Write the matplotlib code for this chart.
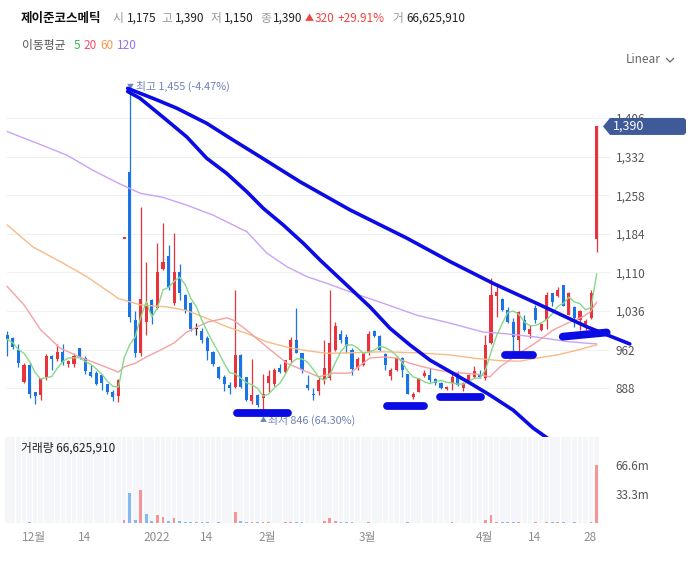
import numpy as np
import pandas as pd
import matplotlib
matplotlib.use('Agg')
import matplotlib.pyplot as plt
from matplotlib.patches import Polygon
from matplotlib.lines import Line2D
from matplotlib.transforms import IdentityTransform

plt.rcParams['font.family'] = ['Noto Sans CJK KR', 'DejaVu Sans']

W, H = 693, 571

# trading days (KRX holidays removed)
holidays = ['2021-12-31', '2022-01-31', '2022-02-01', '2022-02-02', '2022-03-01', '2022-03-09']
days = pd.bdate_range('2021-11-23', '2022-04-28')
days = days[~days.isin(pd.to_datetime(holidays))]

opens = [990, 984, 961, 901, 933, 880, 875, 907, 950, 945, 958, 935, 934, 965, 947, 919, 918, 913, 896, 880,
         874, 1175, 1303, 1018, 955, 1016, 1057, 1042, 1116, 1142, 1052, 1110, 1067, 1051, 1001, 998, 985, 958, 928, 909,
         894, 891, 952, 909, 864, 875, 869, 899, 896, 926, 920, 942, 981, 955, 894, 876, 882, 904, 907, 961,
         992, 987, 961, 926, 933, 955, 998, 988, 954, 912, 924, 947, 915, 872, 881, 912, 914, 906, 898, 886,
         898, 920, 888, 901, 910, 915, 907, 974, 1065, 1060, 1038, 1016, 981, 1018, 993, 1041, 1000, 1018, 1070, 1065,
         1086, 1029, 1044, 1018, 1007, 1022, 1175]
highs = [998, 986, 973, 936, 939, 880, 908, 953, 951, 973, 973, 942, 955, 966, 950, 933, 921, 915, 897, 885,
         905, 1175, 1455, 1037, 1236, 1131, 1060, 1166, 1205, 1163, 1185, 1126, 1068, 1053, 1013, 1003, 988, 960, 930, 914,
         900, 1076, 953, 909, 945, 878, 915, 923, 926, 934, 943, 987, 1041, 956, 914, 888, 910, 981, 1076, 1016,
         1000, 992, 965, 948, 957, 998, 1000, 990, 955, 926, 949, 948, 916, 880, 908, 923, 926, 907, 900, 892,
         915, 921, 900, 915, 930, 924, 990, 1099, 1090, 1062, 1044, 1022, 1036, 1029, 1009, 1048, 1013, 1073, 1071, 1083,
         1086, 1073, 1045, 1038, 1020, 1076, 1390]
lows = [950, 963, 929, 899, 869, 857, 866, 904, 923, 940, 933, 928, 929, 944, 915, 910, 894, 885, 877, 864,
        862, 1175, 1016, 948, 950, 990, 1011, 1040, 1115, 1076, 1048, 1057, 1032, 998, 990, 974, 942, 930, 905, 882,
        878, 889, 889, 863, 857, 853, 846, 880, 893, 917, 918, 939, 955, 918, 885, 866, 876, 897, 904, 960,
        975, 955, 914, 923, 930, 952, 986, 959, 923, 903, 922, 910, 877, 867, 880, 910, 901, 894, 886, 885,
        885, 893, 882, 899, 908, 908, 904, 973, 1025, 1036, 1013, 958, 958, 997, 984, 1014, 997, 1001, 1045, 1063,
        1045, 1028, 1005, 1000, 1000, 1020, 1150]
closes = [982, 968, 937, 933, 878, 874, 907, 950, 944, 958, 938, 941, 950, 947, 921, 912, 896, 899, 880, 872,
          904, 1175, 1025, 956, 1060, 1052, 1030, 1111, 1131, 1083, 1110, 1071, 1038, 1001, 1001, 981, 960, 935, 907, 897,
          889, 952, 891, 866, 875, 856, 877, 911, 923, 920, 942, 981, 956, 923, 888, 875, 904, 926, 974, 1007,
          981, 969, 925, 945, 955, 993, 988, 961, 933, 924, 947, 923, 878, 877, 907, 918, 904, 898, 888, 891,
          909, 894, 898, 914, 922, 910, 971, 1067, 1073, 1038, 1016, 987, 1035, 1000, 1002, 1018, 1011, 1067, 1054, 1076,
          1046, 1070, 1022, 1037, 1017, 1070, 1390]

# volume in millions of shares
volume_m = [0.3, 0.3, 0.3, 0.3, 1.0, 0.3, 0.3, 0.3, 0.3, 0.3, 0.3, 0.3, 0.3, 0.3, 0.3, 0.3, 0.3, 0.3, 0.3, 0.3,
            0.3, 3.0, 34.4, 3.0, 37.7, 10.0, 1.8, 8.9, 7.4, 1.8, 5.5, 1.8, 1.0, 1.0, 1.0, 1.0, 1.0, 0.3, 1.0, 0.3,
            0.3, 12.2, 2.2, 1.0, 1.0, 1.0, 1.0, 1.0, 0.3, 0.3, 1.0, 1.0, 1.0, 1.0, 0.3, 0.3, 0.3, 2.2, 5.5, 2.2,
            1.0, 1.0, 1.0, 0.3, 0.3, 1.0, 0.3, 0.3, 0.3, 0.3, 0.3, 0.3, 1.0, 0.3, 0.3, 0.3, 0.3, 0.3, 0.3, 0.3,
            1.0, 0.3, 0.3, 0.3, 0.3, 0.3, 3.3, 8.9, 1.0, 1.0, 1.0, 1.0, 1.0, 0.3, 0.3, 1.0, 0.3, 1.0, 1.0, 1.0,
            1.0, 0.3, 1.0, 0.3, 0.3, 1.0, 66.63]

# moving averages (day index, price)
ma20_idx = [0, 3, 6, 9.5, 13, 16.7, 20, 21, 23, 25, 27.5, 30, 32.3, 36, 39.5, 40.6, 43, 46.7, 50.3, 54, 56, 58.6,
            61.6, 64, 65.2, 67.6, 70, 72.4, 74.8, 77.3, 79.6, 82, 84.5, 86.8, 88.6, 92.2, 95.3, 98.2, 101.2, 103.5, 104.8, 106]
ma20_val = [1083, 1048, 1000, 965, 948, 933, 919, 929, 936, 948, 961, 975, 996, 1015, 1023, 1019, 1000, 967, 936, 919, 910, 917,
            917, 936, 946, 948, 946, 936, 929, 923, 919, 917, 915, 910, 929, 956, 977, 1000, 1015, 1025, 1034, 1053]
ma60_idx = [0, 4.6, 9.5, 14.3, 20, 23.9, 28.7, 32.3, 35.9, 39.5, 43.1, 46.7, 50.3, 53.9, 57.5, 61.6, 67.6, 73.7,
            79.6, 84.5, 88.6, 92.2, 95.3, 98.9, 102.5, 104.8, 106]
ma60_val = [1201, 1159, 1131, 1102, 1060, 1048, 1044, 1037, 1022, 1006, 993, 977, 967, 960, 955, 956, 958, 956,
            952, 945, 941, 940, 946, 952, 961, 968, 971]
ma120_idx = [0, 4.6, 10.7, 15.4, 20, 23.9, 28, 32.3, 37, 43.1, 46.7, 50.3, 53.9, 57.5, 61.6, 67.6, 73.7, 79.6,
             85.5, 89.2, 95.3, 101.2, 106]
ma120_val = [1380, 1361, 1335, 1306, 1281, 1262, 1254, 1239, 1220, 1188, 1147, 1121, 1102, 1089, 1073, 1051, 1028, 1013,
             996, 993, 986, 977, 973]

# hand-drawn blue marks (day index, price)
trend1_idx = [21.65, 26.87, 30.47, 35.86, 40.6, 45.45, 52.64, 61.64, 71.83, 79.62, 87.4, 95.8, 104.2, 111.96]
trend1_val = [1463, 1441, 1425, 1396, 1364, 1332, 1284, 1230, 1176, 1131, 1089, 1048, 1006, 973]
trend2_idx = [21.65, 23.87, 28.67, 32.27, 35.86, 39.46, 43.06, 46.04, 49.64, 53.24, 56.24, 61.64, 65.23, 68.83,
              72.43, 76.02, 79.62, 83.22, 86.81, 91.0, 94.55, 97.6]
trend2_val = [1457, 1444, 1402, 1370, 1329, 1300, 1265, 1233, 1201, 1166, 1134, 1080, 1044, 1003,
              971, 942, 920, 898, 875, 846, 812, 789]
marks = [((41.26, 50.54), (840, 840)),
         ((68.24, 74.94), (854, 854)),
         ((77.82, 85.2), (872, 872)),
         ((89.5, 94.5), (952, 952)),
         ((99.9, 107.8), (987, 995))]

price_ticks = [888, 962, 1036, 1110, 1184, 1258, 1332, 1406]
vol_ticks = [33.3, 66.6]
tick_dates = ['2021-12-01', '2021-12-14', '2022-01-03', '2022-01-14', '2022-02-03',
              '2022-03-02', '2022-04-01', '2022-04-14', '2022-04-28']
tick_labels = ['12월', '14', '2022', '14', '2월', '3월', '4월', '14', '28']

UP, DOWN, FLAT = '#e8333c', '#1b74e4', '#333333'

fig = plt.figure(figsize=(W / 100, H / 100), dpi=100)


def px_axes(l, t, r, b):
    return fig.add_axes([l / W, 1 - b / H, (r - l) / W, (b - t) / H])


slot = 5.56
ax = px_axes(0, 70, 610, 432)
vax = px_axes(0, 437, 610, 523)
for a in (ax, vax):
    a.set_xlim(-7.3 / slot, (610 - 7.3) / slot)
    for s in a.spines.values():
        s.set_visible(False)
ax.set_ylim(804.2, 1498.2)
vax.set_ylim(0, 98.7)

idx = np.arange(len(closes))
o = np.array(opens, float)
c = np.array(closes, float)
hi = np.array(highs, float)
lo = np.array(lows, float)
prev = np.r_[o[0], c[:-1]]

cols = []
for i in idx:
    if c[i] > o[i]:
        cols.append(UP)
    elif c[i] < o[i]:
        cols.append(DOWN)
    else:
        cols.append(UP if c[i] > prev[i] else (DOWN if c[i] < prev[i] else FLAT))

for p in price_ticks:
    ax.axhline(p, xmin=7 / 610, color='#eef0f3', lw=0.8, zorder=0)

ax.vlines(idx, lo, hi, colors=cols, lw=0.9, zorder=2)
ax.bar(idx, np.maximum(np.abs(c - o), 2.4), bottom=np.minimum(o, c), width=0.55, color=cols, zorder=2)

ma5 = pd.Series(closes).rolling(5, min_periods=1).mean()
ax.plot(ma120_idx, ma120_val, color='#c9a3f5', lw=1.0, zorder=3)
ax.plot(ma60_idx, ma60_val, color='#f8bb86', lw=1.0, zorder=3)
ax.plot(ma20_idx, ma20_val, color='#f6a1a1', lw=1.0, zorder=3)
ax.plot(idx, ma5, color='#86d98a', lw=1.0, zorder=3)

# blue marks
ax.plot(trend1_idx, trend1_val, color='#0b0be6', lw=2.6, clip_on=False, zorder=10, solid_capstyle='round')
ax.plot(trend2_idx, trend2_val, color='#0b0be6', lw=2.6, clip_on=False, zorder=10, solid_capstyle='round')
for mx, my in marks:
    ax.plot(mx, my, color='#0b0be6', lw=5.6, clip_on=False, zorder=10, solid_capstyle='round')

# high / low notes
hi_i = int(np.argmax(hi))
lo_i = int(np.argmin(lo))
note = '#7082b6'
ax.annotate('▼', xy=(hi_i, hi[hi_i]), xytext=(1, 6), textcoords='offset pixels',
            fontsize=5, color=note, ha='center', va='center', zorder=4)
ax.annotate('최고 1,455 (-4.47%)', xy=(hi_i, hi[hi_i]), xytext=(6, 6), textcoords='offset pixels',
            fontsize=7.8, color=note, ha='left', va='center', zorder=4)
ax.annotate('▲', xy=(lo_i, lo[lo_i]), xytext=(0, -10), textcoords='offset pixels',
            fontsize=5, color=note, ha='center', va='center', zorder=4)
ax.annotate('최저 846 (64.30%)', xy=(lo_i, lo[lo_i]), xytext=(5, -10), textcoords='offset pixels',
            fontsize=7.8, color=note, ha='left', va='center', zorder=4)

# price axis
ax.yaxis.tick_right()
ax.set_yticks(price_ticks)
ax.set_yticklabels([f'{p:,}' for p in price_ticks])
ax.tick_params(axis='y', length=0, pad=4, labelsize=8.5, labelcolor='#555555')
ax.set_xticks([])

# volume panel
vax.bar(idx, 98.7, width=0.86, color='#f4f6fa', zorder=0)
vcols = [UP if c[i] >= prev[i] else DOWN for i in idx]
vcols = ['#f39696' if k == UP else '#86b9f1' for k in vcols]
vax.bar(idx, volume_m, width=0.5, color=vcols, zorder=2)
vax.yaxis.tick_right()
vax.set_yticks(vol_ticks)
vax.set_yticklabels([f'{v}m' for v in vol_ticks])
vax.tick_params(axis='y', length=0, pad=4, labelsize=8.5, labelcolor='#555555')
tpos = [days.get_loc(pd.Timestamp(d)) - 1.2 for d in tick_dates]
vax.set_xticks(tpos)
vax.set_xticklabels(tick_labels)
vax.tick_params(axis='x', length=0, pad=6, labelsize=8.5, labelcolor='#8c8c8c')
fig.text(21 / W, 1 - 448 / H, '거래량 66,625,910', fontsize=8.5, color='#222222', va='center')

# last price tag
fig.canvas.draw()
yc = ax.transData.transform((0, closes[-1]))[1]
tag = [(603, yc), (610, yc + 8.5), (684, yc + 8.5), (686, yc + 6.5), (686, yc - 6.5), (684, yc - 8.5), (610, yc - 8.5)]
fig.add_artist(Polygon(tag, closed=True, transform=IdentityTransform(), facecolor='#3e5a98', edgecolor='none', zorder=5))
fig.text(613 / W, yc / H, f'{closes[-1]:,}', color='white', fontsize=9, va='center', zorder=6)

# header
def t(x, y, s, **kw):
    kw.setdefault('fontsize', 8.5)
    fig.text(x / W, 1 - y / H, s, va='center', **kw)


grey, dark, red = '#9a9a9a', '#222222', '#f0443f'
t(20.7, 18.3, '제이준코스메틱', fontsize=9, fontweight='bold', color='#111111')
t(112.7, 18.3, '시', color=grey)
t(127, 18.3, '1,175', color=dark)
t(161.7, 18.3, '고', color=grey)
t(175, 18.3, '1,390', color=dark)
t(210.7, 18.3, '저', color=grey)
t(224, 18.3, '1,150', color=dark)
t(260, 18.3, '종', color=grey)
t(273, 18.3, '1,390', color=dark)
t(305, 18.3, '▲', color=red, fontsize=6.5)
t(315, 18.3, '320', color=red)
t(338, 18.3, '+29.91%', color=red)
t(392.7, 18.3, '거', color=grey)
t(406, 18.3, '66,625,910', color=dark)

t(21.7, 45.5, '이동평균', color='#555555')
t(73.3, 45.5, '5', color='#3bb54a')
t(83.3, 45.5, '20', color='#f2506b')
t(100, 45.5, '60', color='#f39a4c')
t(117.3, 45.5, '120', color='#9d6ef2')

t(626, 59.5, 'Linear', color='#666666')
fig.add_artist(Line2D([666.5, 670, 673.5], [H - 58.5, H - 62, H - 58.5], transform=IdentityTransform(),
                      color='#666666', lw=0.9))

fig.savefig('out.png', dpi=100)
